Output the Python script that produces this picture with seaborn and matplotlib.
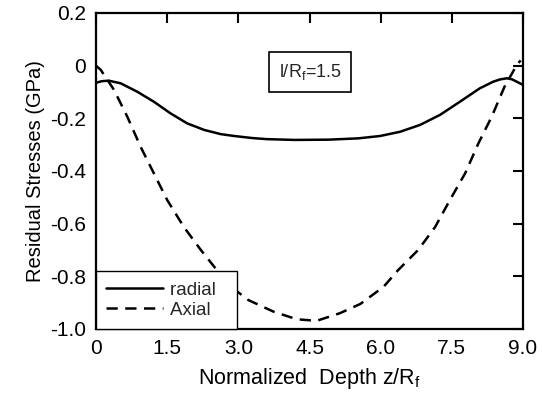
import matplotlib
matplotlib.use("Agg")
import matplotlib.pyplot as plt
import pandas as pd
import seaborn as sns

# Values
depth_radial = [0.0, 0.12, 0.27, 0.52, 0.87, 1.22, 1.57, 1.92, 2.28, 2.63, 2.91, 3.3, 3.6,
                4.19, 4.9, 5.53, 5.99, 6.41, 6.83, 7.25, 7.67, 8.09, 8.37, 8.52, 8.66,
                8.77, 8.87, 9.0]
stress_radial = [-0.065, -0.059, -0.057, -0.067, -0.099, -0.137, -0.181, -0.219, -0.244,
                 -0.26, -0.267, -0.275, -0.279, -0.282, -0.281, -0.276, -0.267, -0.251,
                 -0.225, -0.187, -0.137, -0.086, -0.061, -0.052, -0.048, -0.052, -0.061,
                 -0.073]

depth_axial = [0.0, 0.1, 0.38, 0.66, 0.94, 1.22, 1.5, 1.85, 2.21, 2.52, 2.85, 3.21, 3.74,
               4.23, 4.65, 5.14, 5.57, 6.06, 6.37, 6.79, 7.15, 7.46, 7.78, 8.06, 8.34,
               8.61, 8.87, 8.95]
stress_axial = [0.0, -0.016, -0.092, -0.194, -0.308, -0.409, -0.51, -0.612, -0.7, -0.77,
                -0.84, -0.89, -0.934, -0.963, -0.969, -0.94, -0.905, -0.84, -0.776, -0.7,
                -0.612, -0.51, -0.409, -0.295, -0.194, -0.08, 0.003, 0.02]

x_ticks = [0, 1.5, 3.0, 4.5, 6.0, 7.5, 9.0]
x_ticklabels = ["0", "1.5", "3.0", "4.5", "6.0", "7.5", "9.0"]
y_ticks = [0.2, 0, -0.2, -0.4, -0.6, -0.8, -1.0]
y_ticklabels = ["0.2", "0", "-0.2", "-0.4", "-0.6", "-0.8", "-1.0"]

df = pd.concat([
    pd.DataFrame({"z": depth_radial, "s": stress_radial, "kind": "radial"}),
    pd.DataFrame({"z": depth_axial, "s": stress_axial, "kind": "Axial"}),
])

sns.set_style("white")
plt.rcParams["font.family"] = ["Liberation Sans", "DejaVu Sans"]

fig = plt.figure(figsize=(5.42, 4.05), dpi=100)
# axes box: x 96..523 px, y 13..329 px
ax = fig.add_axes([96 / 542, 1 - 329 / 405, 427 / 542, 316 / 405])

sns.lineplot(data=df, x="z", y="s", style="kind", color="black", linewidth=1.8,
             dashes={"radial": "", "Axial": (4.5, 3)}, ax=ax, sort=False,
             estimator=None)

ax.set_xlim(0, 9.0)
ax.set_ylim(-1.0, 0.2)
ax.set_xticks(x_ticks)
ax.set_xticklabels(x_ticklabels)
ax.set_yticks(y_ticks)
ax.set_yticklabels(y_ticklabels)
ax.tick_params(direction="in", length=7, width=1.5, top=True, right=True,
               labelsize=15, pad=7, colors="black")
for sp in ax.spines.values():
    sp.set_linewidth(1.6)
    sp.set_color("black")

ax.set_xlabel("Normalized  Depth z/R$_\\mathregular{f}$", fontsize=15.5, labelpad=6,
              color="black")
ax.set_ylabel("Residual Stresses (GPa)", fontsize=14.5, labelpad=4, color="black")

ax.text(4.51, -0.024, "l/R$_\\mathregular{f}$=1.5", fontsize=13, ha="center", va="center",
        bbox=dict(boxstyle="square,pad=0.55", fc="white", ec="black", lw=1.2))

# legend box is a bit wider than its text in the original
handles, labels = ax.get_legend_handles_labels()
labels = [l + "  " for l in labels]
leg = ax.legend(handles, labels, loc="lower left", frameon=True, fancybox=False,
                framealpha=1.0, fontsize=13.5, handlelength=3.0, borderaxespad=0,
                borderpad=0.55, labelspacing=0.15, handletextpad=0.4)
leg.get_frame().set_edgecolor("black")
leg.get_frame().set_linewidth(1.0)

fig.savefig("out.png", dpi=100)
